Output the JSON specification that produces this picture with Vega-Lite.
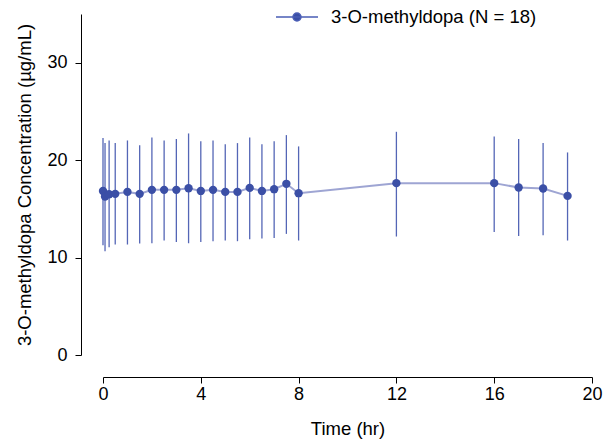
{
  "$schema": "https://vega.github.io/schema/vega-lite/v6.json",
  "autosize": "none",
  "width": 489,
  "height": 341,
  "padding": {"left": 103, "top": 14, "right": 12, "bottom": 90},
  "background": "white",
  "config": {
    "view": {"stroke": null},
    "font": "Liberation Sans",
    "axis": {
      "grid": false,
      "domainColor": "#000000",
      "domainWidth": 1,
      "tickColor": "#000000",
      "tickWidth": 1,
      "tickSize": 6,
      "labelColor": "#000000",
      "titleColor": "#000000",
      "labelFont": "Liberation Sans",
      "titleFont": "Liberation Sans",
      "labelFontSize": 18,
      "titleFontSize": 18.5,
      "titleFontWeight": "normal",
      "offset": 22
    }
  },
  "data": {
    "values": [
      {"t": 0, "y": 16.84, "lo": 11.26, "hi": 22.26, "series": "3-O-methyldopa (N = 18)"},
      {"t": 0.083, "y": 16.27, "lo": 10.65, "hi": 21.75, "series": "3-O-methyldopa (N = 18)"},
      {"t": 0.25, "y": 16.5, "lo": 11.06, "hi": 22.02, "series": "3-O-methyldopa (N = 18)"},
      {"t": 0.5, "y": 16.54, "lo": 11.34, "hi": 21.75, "series": "3-O-methyldopa (N = 18)"},
      {"t": 1, "y": 16.74, "lo": 11.34, "hi": 22.02, "series": "3-O-methyldopa (N = 18)"},
      {"t": 1.5, "y": 16.54, "lo": 11.44, "hi": 21.54, "series": "3-O-methyldopa (N = 18)"},
      {"t": 2, "y": 16.95, "lo": 11.47, "hi": 22.33, "series": "3-O-methyldopa (N = 18)"},
      {"t": 2.5, "y": 16.95, "lo": 11.75, "hi": 22.02, "series": "3-O-methyldopa (N = 18)"},
      {"t": 3, "y": 16.95, "lo": 11.6, "hi": 22.16, "series": "3-O-methyldopa (N = 18)"},
      {"t": 3.5, "y": 17.12, "lo": 11.47, "hi": 22.74, "series": "3-O-methyldopa (N = 18)"},
      {"t": 4, "y": 16.84, "lo": 11.6, "hi": 21.95, "series": "3-O-methyldopa (N = 18)"},
      {"t": 4.5, "y": 16.95, "lo": 11.68, "hi": 22.02, "series": "3-O-methyldopa (N = 18)"},
      {"t": 5, "y": 16.74, "lo": 11.75, "hi": 21.64, "series": "3-O-methyldopa (N = 18)"},
      {"t": 5.5, "y": 16.74, "lo": 11.68, "hi": 21.75, "series": "3-O-methyldopa (N = 18)"},
      {"t": 6, "y": 17.15, "lo": 11.88, "hi": 22.33, "series": "3-O-methyldopa (N = 18)"},
      {"t": 6.5, "y": 16.84, "lo": 11.95, "hi": 21.64, "series": "3-O-methyldopa (N = 18)"},
      {"t": 7, "y": 17.02, "lo": 12.02, "hi": 21.95, "series": "3-O-methyldopa (N = 18)"},
      {"t": 7.5, "y": 17.57, "lo": 12.43, "hi": 22.57, "series": "3-O-methyldopa (N = 18)"},
      {"t": 8, "y": 16.61, "lo": 11.75, "hi": 21.41, "series": "3-O-methyldopa (N = 18)"},
      {"t": 12, "y": 17.64, "lo": 12.16, "hi": 22.91, "series": "3-O-methyldopa (N = 18)"},
      {"t": 16, "y": 17.64, "lo": 12.63, "hi": 22.43, "series": "3-O-methyldopa (N = 18)"},
      {"t": 17, "y": 17.19, "lo": 12.22, "hi": 22.16, "series": "3-O-methyldopa (N = 18)"},
      {"t": 18, "y": 17.09, "lo": 12.29, "hi": 21.75, "series": "3-O-methyldopa (N = 18)"},
      {"t": 19, "y": 16.33, "lo": 11.75, "hi": 20.79, "series": "3-O-methyldopa (N = 18)"}
    ]
  },
  "encoding": {
    "x": {
      "field": "t",
      "type": "quantitative",
      "scale": {"domain": [0, 20], "nice": false, "zero": false},
      "axis": {"values": [0, 4, 8, 12, 16, 20], "title": "Time (hr)", "labelPadding": 2, "titlePadding": 16, "labelFlush": false}
    }
  },
  "layer": [
    {
      "mark": {"type": "rule", "color": "#5466b6", "strokeWidth": 1.3},
      "encoding": {
        "y": {
          "field": "lo",
          "type": "quantitative",
          "scale": {"domain": [0, 35], "nice": false, "zero": false},
          "axis": {"values": [0, 10, 20, 30], "title": "3-O-methyldopa Concentration (µg/mL)", "labelPadding": 8, "titlePadding": 12, "labelFlush": false}
        },
        "y2": {"field": "hi"}
      }
    },
    {
      "mark": {"type": "line", "color": "#9ea5d3", "strokeWidth": 2},
      "encoding": {
        "y": {"field": "y", "type": "quantitative"}
      }
    },
    {
      "mark": {"type": "point", "filled": true, "opacity": 1, "size": 70, "shape": "circle"},
      "encoding": {
        "y": {"field": "y", "type": "quantitative"},
        "color": {
          "field": "series",
          "type": "nominal",
          "scale": {"range": ["#3b4fa6"]},
          "legend": {
            "title": null,
            "orient": "none",
            "legendX": 172,
            "legendY": -19,
            "symbolType": "M-1,0L1,0M-0.19,0A0.19,0.19,0,1,0,0.19,0A0.19,0.19,0,1,0,-0.19,0Z",
            "symbolSize": 1764,
            "symbolStrokeWidth": 1.5,
            "symbolFillColor": "#3b4fa6",
            "symbolStrokeColor": "#4a5db5",
            "symbolOpacity": 1,
            "labelOffset": 12,
            "labelFontSize": 18.5,
            "labelFont": "Liberation Sans",
            "labelColor": "#000000",
            "labelLimit": 400,
            "padding": 0
          }
        }
      }
    }
  ]
}
